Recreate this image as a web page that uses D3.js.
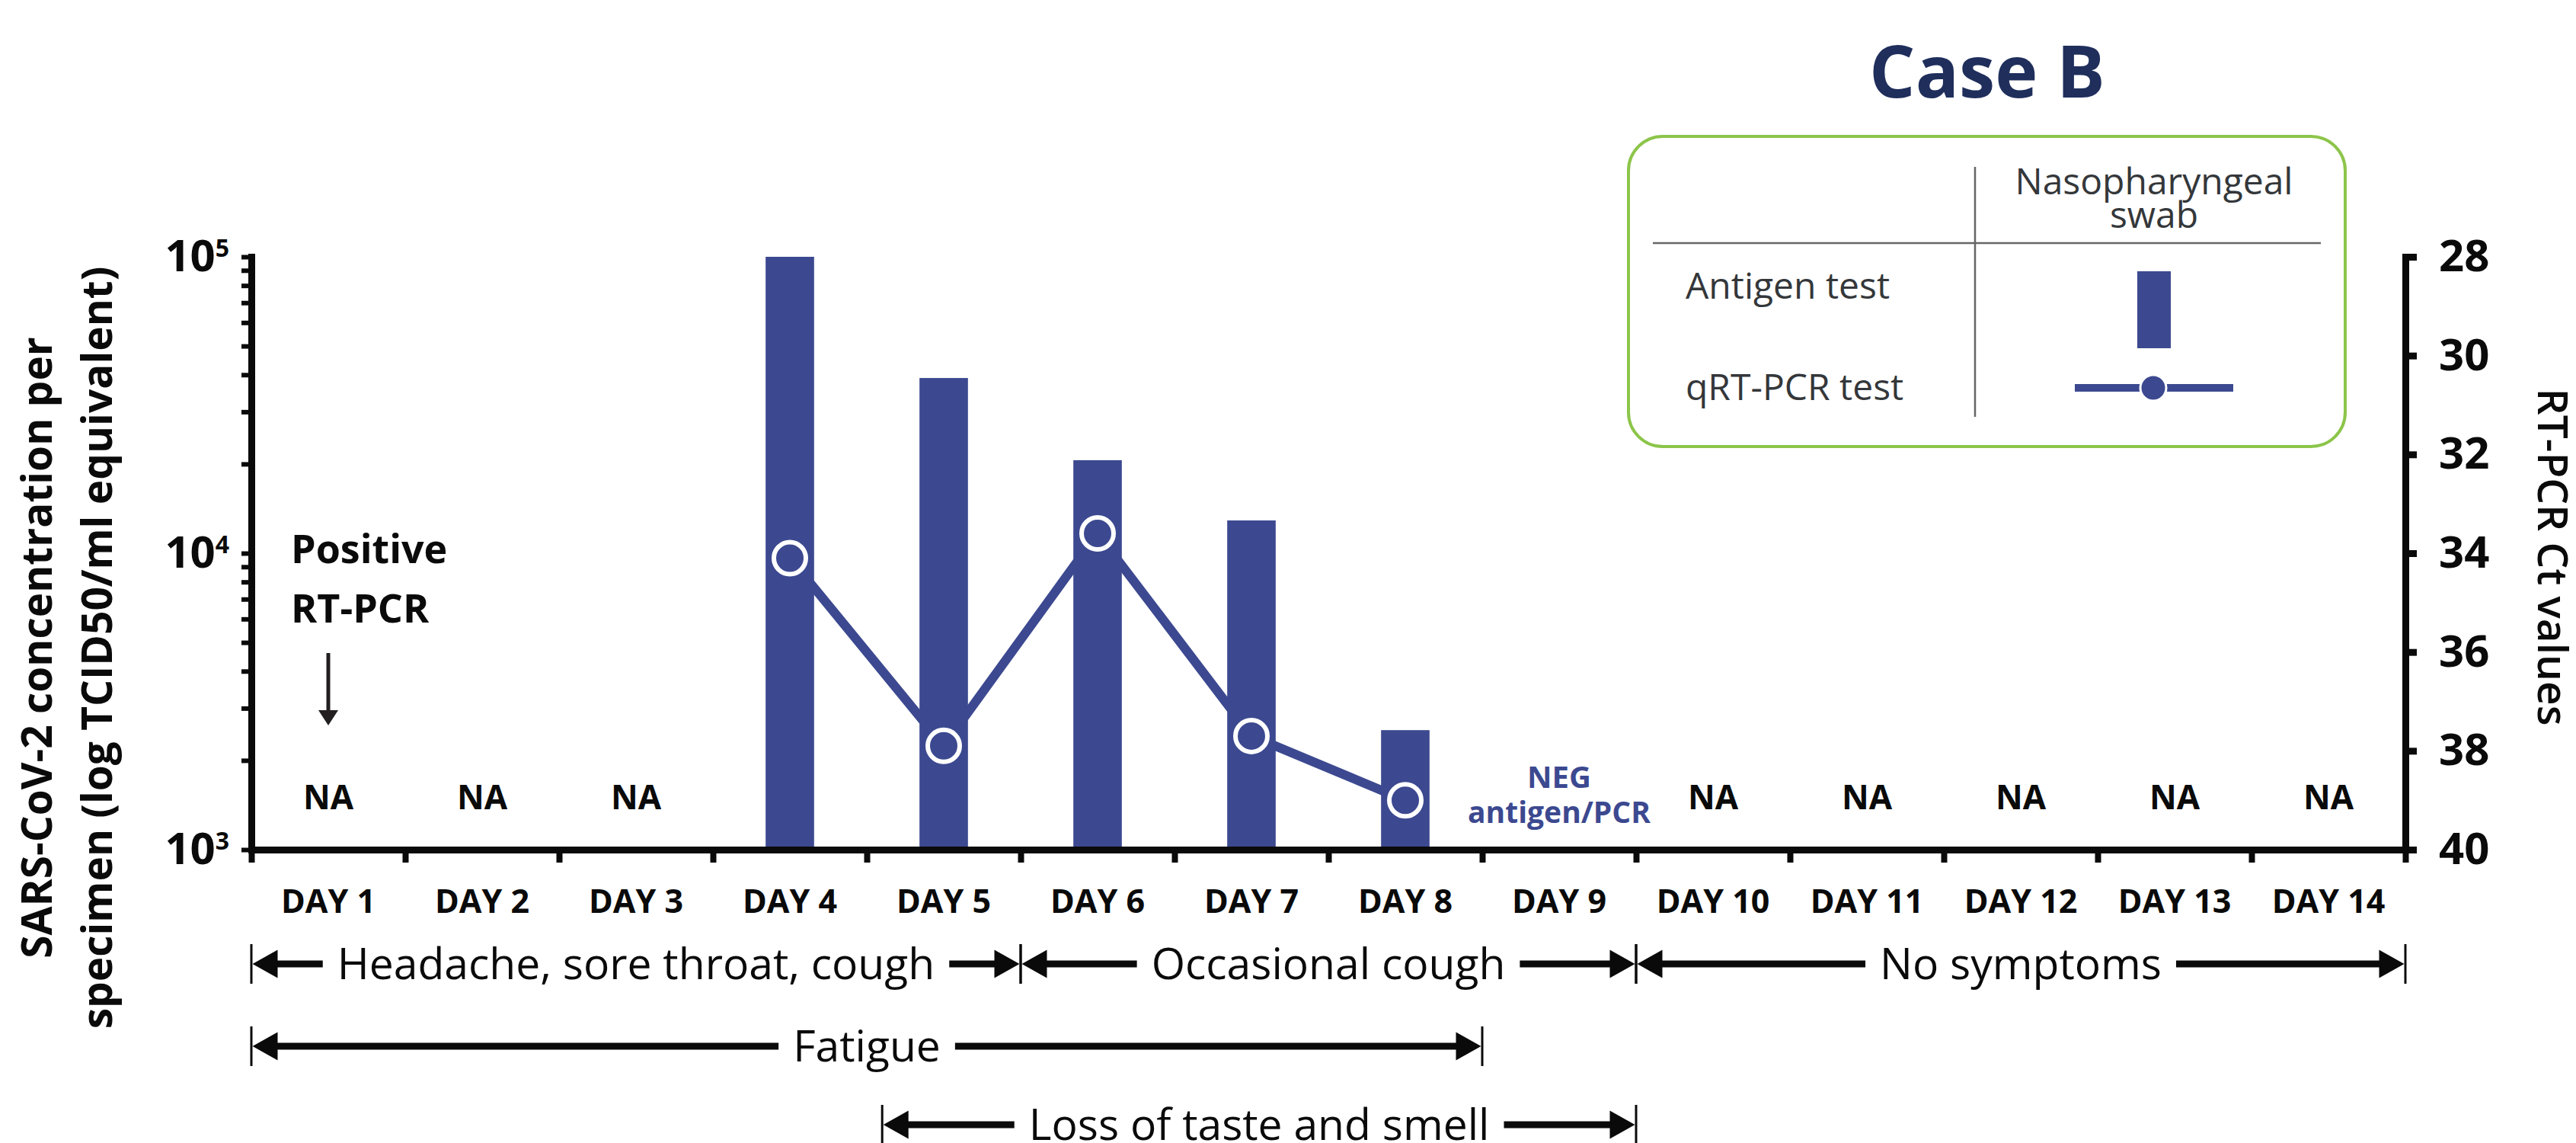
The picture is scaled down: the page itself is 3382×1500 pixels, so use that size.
<!DOCTYPE html>
<html>
<head>
<meta charset="utf-8">
<script src="https://cdn.jsdelivr.net/npm/d3@7"></script>
<style>
  body { margin: 0; background: #fff; }
  svg { display: block; font-family: "Open Sans", sans-serif; }
</style>
</head>
<body>
<div id="chart"></div>
<script>
// values
const days = ["DAY 1", "DAY 2", "DAY 3", "DAY 4", "DAY 5", "DAY 6", "DAY 7",
  "DAY 8", "DAY 9", "DAY 10", "DAY 11", "DAY 12", "DAY 13", "DAY 14"];
const antigenDays = ["DAY 4", "DAY 5", "DAY 6", "DAY 7", "DAY 8"];
const antigenConc = [100000, 39000, 20600, 12900, 2530];   // TCID50/ml equiv
const pcrDays = ["DAY 4", "DAY 5", "DAY 6", "DAY 7", "DAY 8"];
const pcrCt = [34.1, 37.9, 33.6, 37.7, 39.0];
const naDays = ["DAY 1", "DAY 2", "DAY 3", "DAY 10", "DAY 11", "DAY 12", "DAY 13", "DAY 14"];
const negDay = "DAY 9";
const concMajorTicks = [1e3, 1e4, 1e5];
const ctTicks = [28, 30, 32, 34, 36, 38, 40];
// symptom periods, in day units from the start of day 1
const symptomLabels = ["Headache, sore throat, cough", "Occasional cough", "No symptoms", "Fatigue", "Loss of taste and smell"];
const symptomStart = [0, 5, 9, 0, 4.1];
const symptomEnd = [5, 9, 14, 8, 9];
const symptomRow = [0, 0, 0, 1, 2];

const W = 3382, H = 1500;
const plot = { left: 330, right: 3158, top: 337, bottom: 1115 };
const navy = "#3c4990";
const ink = "#0a0a0a";

const svg = d3.select("#chart").append("svg")
  .attr("width", W).attr("height", H);
svg.append("rect").attr("width", W).attr("height", H).attr("fill", "#fff");

const x = d3.scaleBand().domain(days).range([plot.left, plot.right]);
const xEdge = d3.scaleLinear().domain([0, days.length]).range([plot.left, plot.right]);
const xc = d => x(d) + x.bandwidth() / 2;
const yConc = d3.scaleLog().domain([1e3, 1e5]).range([plot.bottom, plot.top]);
const yCt = d3.scaleLinear().domain([40, 28]).range([plot.bottom, plot.top]);

// antigen bars
const barW = x.bandwidth() * 0.315;
svg.append("g").selectAll("rect")
  .data(antigenDays)
  .join("rect")
    .attr("x", d => xc(d) - barW / 2)
    .attr("y", (d, i) => yConc(antigenConc[i]))
    .attr("width", barW)
    .attr("height", (d, i) => yConc(1e3) - yConc(antigenConc[i]))
    .attr("fill", navy);

// qRT-PCR line
const pcr = pcrDays.map((d, i) => ({ day: d, ct: pcrCt[i] }));
const ctLine = d3.line()
  .x(d => xc(d.day))
  .y(d => yCt(d.ct));
svg.append("path")
  .datum(pcr)
  .attr("d", ctLine)
  .attr("fill", "none")
  .attr("stroke", navy)
  .attr("stroke-width", 12);
svg.append("g").selectAll("circle")
  .data(pcr)
  .join("circle")
    .attr("cx", d => xc(d.day))
    .attr("cy", d => yCt(d.ct))
    .attr("r", 21)
    .attr("fill", navy)
    .attr("stroke", "#fff")
    .attr("stroke-width", 6);

// axes
function styleAxis(g, tickW) {
  g.attr("font-family", null).attr("font-size", null);
  g.select(".domain").attr("stroke", ink).attr("stroke-width", 9).attr("stroke-linecap", "square");
  g.selectAll(".tick line").attr("stroke", ink).attr("stroke-width", tickW);
  g.selectAll(".tick text").attr("fill", ink);
}

const yAxisL = svg.append("g")
  .attr("transform", `translate(${plot.left},0)`)
  .call(d3.axisLeft(yConc).tickValues(yConc.ticks()).tickSize(13).tickPadding(16)
    .tickSizeOuter(0).tickFormat(""))
  .call(g => styleAxis(g, 6));
yAxisL.selectAll(".tick")
  .filter(d => concMajorTicks.some(m => Math.abs(m - d) < 1e-6))
  .select("text")
    .attr("font-size", 58).attr("font-weight", 700)
    .each(function (d) {
      const t = d3.select(this);
      t.append("tspan").text("10");
      t.append("tspan").attr("font-size", 32).attr("dy", -19).text(Math.round(Math.log10(d)));
    });

svg.append("g")
  .attr("transform", `translate(${plot.right},0)`)
  .call(d3.axisRight(yCt).tickValues(ctTicks).tickSize(15).tickPadding(29).tickSizeOuter(0))
  .call(g => styleAxis(g, 9))
  .selectAll(".tick text")
    .attr("font-size", 58).attr("font-weight", 700);

svg.append("g")
  .attr("transform", `translate(0,${plot.bottom})`)
  .call(d3.axisBottom(xEdge).tickValues(d3.range(days.length + 1)).tickSize(17)
    .tickSizeOuter(0).tickFormat(""))
  .call(g => styleAxis(g, 8));

svg.append("g")
  .attr("transform", `translate(0,${plot.bottom})`)
  .call(d3.axisBottom(x).tickSize(0).tickPadding(52))
  .call(g => g.select(".domain").remove())
  .call(g => g.attr("font-family", null).attr("font-size", null))
  .selectAll(".tick text")
    .attr("fill", ink).attr("font-size", 43).attr("font-weight", 700);

// NA / NEG markers
svg.append("g").selectAll("text")
  .data(naDays)
  .join("text")
    .attr("x", d => xc(d))
    .attr("y", 1062)
    .attr("text-anchor", "middle")
    .attr("font-size", 44).attr("font-weight", 700).attr("fill", ink)
    .text("NA");
svg.append("text")
  .attr("x", xc(negDay)).attr("y", 1034)
  .attr("text-anchor", "middle")
  .attr("font-size", 40).attr("font-weight", 700).attr("fill", navy)
  .text("NEG");
svg.append("text")
  .attr("x", xc(negDay)).attr("y", 1080)
  .attr("text-anchor", "middle")
  .attr("font-size", 39).attr("font-weight", 700).attr("fill", navy)
  .text("antigen/PCR");

// positive RT-PCR note
const note = svg.append("g").attr("fill", ink).attr("font-size", 52).attr("font-weight", 700);
note.append("text").attr("x", 382).attr("y", 739).text("Positive");
note.append("text").attr("x", 382).attr("y", 817).text("RT-PCR");
svg.append("line")
  .attr("x1", xc("DAY 1")).attr("x2", xc("DAY 1"))
  .attr("y1", 857).attr("y2", 935)
  .attr("stroke", "#231f20").attr("stroke-width", 5);
svg.append("path")
  .attr("d", d3.line()([[xc("DAY 1") - 13, 932], [xc("DAY 1") + 13, 932], [xc("DAY 1"), 952]]) + "Z")
  .attr("fill", "#231f20");

// axis titles
const yTitle = svg.append("g").attr("fill", ink).attr("font-size", 55).attr("font-weight", 700)
  .attr("text-anchor", "middle");
yTitle.append("text").attr("transform", "translate(68,850) rotate(-90)")
  .text("SARS-CoV-2 concentration per");
yTitle.append("text").attr("transform", "translate(147,850) rotate(-90)")
  .text("specimen (log TCID50/ml equivalent)");
svg.append("text")
  .attr("transform", "translate(3332,731) rotate(90)")
  .attr("text-anchor", "middle")
  .attr("fill", ink).attr("font-size", 55).attr("font-weight", 600)
  .text("RT-PCR Ct values");

// symptom timeline
const rowY = [1265, 1373, 1476];
const head = 33, headH = 18.5, gap = 19;
symptomLabels.forEach((label, i) => {
  const g = svg.append("g").attr("transform", `translate(0,${rowY[symptomRow[i]]})`);
  const x0 = xEdge(symptomStart[i]), x1 = xEdge(symptomEnd[i]);
  const cx = (x0 + x1) / 2;
  const t = g.append("text")
    .attr("x", cx).attr("y", 20)
    .attr("text-anchor", "middle")
    .attr("font-size", 57).attr("fill", ink)
    .text(label);
  const w = t.node().getComputedTextLength();
  [x0, x1].forEach(xx => g.append("line")
    .attr("x1", xx).attr("x2", xx).attr("y1", -26).attr("y2", 26)
    .attr("stroke", ink).attr("stroke-width", 3));
  g.append("rect").attr("x", x0 + head).attr("y", -4.5)
    .attr("width", Math.max(0, cx - w / 2 - gap - x0 - head)).attr("height", 9).attr("fill", ink);
  g.append("rect").attr("x", cx + w / 2 + gap).attr("y", -4.5)
    .attr("width", Math.max(0, x1 - head - cx - w / 2 - gap)).attr("height", 9).attr("fill", ink);
  g.append("path")
    .attr("d", d3.line()([[x0 + 1.5, 0], [x0 + 1.5 + head, -headH], [x0 + 1.5 + head, headH]]) + "Z")
    .attr("fill", ink);
  g.append("path")
    .attr("d", d3.line()([[x1 - 1.5, 0], [x1 - 1.5 - head, -headH], [x1 - 1.5 - head, headH]]) + "Z")
    .attr("fill", ink);
});

// title and legend
svg.append("text")
  .attr("x", 2609).attr("y", 128)
  .attr("text-anchor", "middle")
  .attr("font-size", 95).attr("font-weight", 700).attr("fill", "#1f2e5b")
  .text("Case B");

const lg = svg.append("g");
lg.append("rect")
  .attr("x", 2138).attr("y", 179).attr("width", 941).attr("height", 407)
  .attr("rx", 45)
  .attr("fill", "#fff").attr("stroke", "#8cc54a").attr("stroke-width", 4);
lg.append("line").attr("x1", 2593).attr("x2", 2593).attr("y1", 219).attr("y2", 547)
  .attr("stroke", "#666").attr("stroke-width", 2.5);
lg.append("line").attr("x1", 2170).attr("x2", 3047).attr("y1", 319).attr("y2", 319)
  .attr("stroke", "#666").attr("stroke-width", 2.5);
const lgText = lg.append("g").attr("font-size", 48).attr("fill", "#34373a");
lgText.append("text").attr("x", 2828).attr("y", 255).attr("text-anchor", "middle").text("Nasopharyngeal");
lgText.append("text").attr("x", 2828).attr("y", 299).attr("text-anchor", "middle").text("swab");
lgText.append("text").attr("x", 2213).attr("y", 392).text("Antigen test");
lgText.append("text").attr("x", 2213).attr("y", 525).text("qRT-PCR test");
lg.append("rect").attr("x", 2806).attr("y", 356).attr("width", 44).attr("height", 101).attr("fill", navy);
lg.append("line").attr("x1", 2724).attr("x2", 2932).attr("y1", 509).attr("y2", 509)
  .attr("stroke", navy).attr("stroke-width", 10);
lg.append("circle").attr("cx", 2827).attr("cy", 509).attr("r", 17)
  .attr("fill", navy).attr("stroke", "#fff").attr("stroke-width", 3);
</script>
</body>
</html>
